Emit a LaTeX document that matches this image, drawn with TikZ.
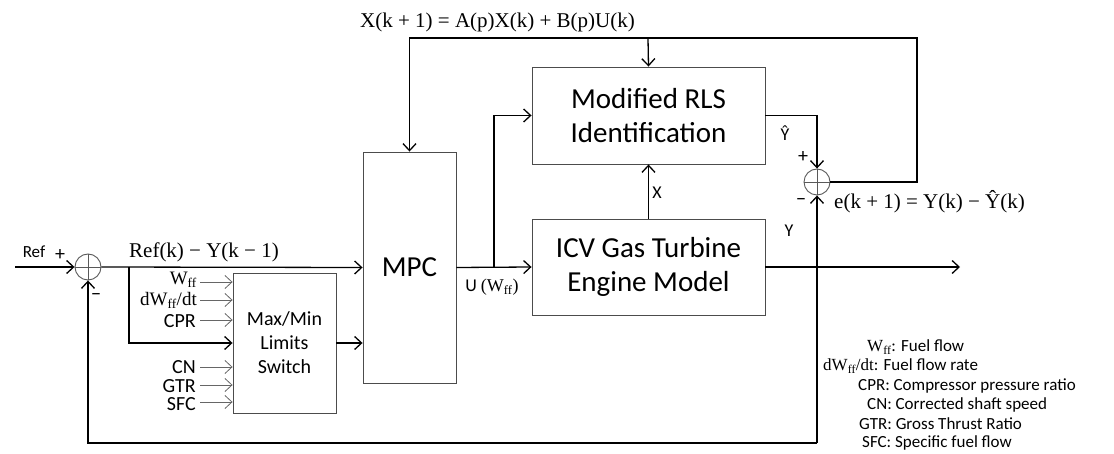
\documentclass[tikz,border=0pt]{standalone}
\usepackage{fontspec}
\setmainfont{Carlito}
\newfontfamily\mth{Liberation Serif}
\usetikzlibrary{arrows.meta}
\begin{document}
\begin{tikzpicture}[x=1pt,y=-1pt,
  box/.style={draw=black!70, line width=0.9pt, inner sep=0pt, align=center, font=\fontsize{29}{34}\selectfont},
  sumj/.style={circle, draw=black!65, line width=0.9pt, minimum size=26pt, inner sep=0pt},
  ln/.style={line width=1.3pt},
  arr/.style={ln, -{Straight Barb[length=7pt,width=13pt,line width=1.3pt]}},
  tarr/.style={draw=black!60, line width=0.8pt, -{Straight Barb[length=7pt,width=13pt,line width=0.8pt]}},
  lbl/.style={inner sep=0pt, font=\fontsize{20}{22}\selectfont},
  slbl/.style={inner sep=0pt, font=\fontsize{18}{20}\selectfont},
  mlbl/.style={inner sep=0pt, font=\mth\fontsize{21}{23}\selectfont},
  leg/.style={inner sep=0pt, anchor=west, font=\fontsize{17}{19}\selectfont}
]
\useasboundingbox (0,0) rectangle (1114,454);

% blocks
\node[box, minimum width=233pt, minimum height=97pt] (rls) at (648.5,115.5) {Modified RLS\\Identification};
\node[box, minimum width=233pt, minimum height=96pt] (icv) at (648.5,267) {ICV Gas Turbine\\Engine Model};
\node[box, minimum width=93pt, minimum height=231pt] (mpc) at (409.5,267.5) {MPC};
\node[box, minimum width=103pt, minimum height=140pt, font=\fontsize{20}{24}\selectfont] (mm) at (284.5,343) {Max/Min\\Limits\\Switch};

% summing junctions
\node[sumj] (s1) at (88,267) {};
\draw[black!65, line width=0.8pt] (s1.north) -- (s1.south) (s1.west) -- (s1.east);
\node[sumj] (s2) at (817,182) {};
\draw[black!65, line width=0.8pt] (s2.north) -- (s2.south) (s2.west) -- (s2.east);

% coordinates
\coordinate (ref) at (15,267);
\coordinate (b1) at (129,267);
\coordinate (b2) at (494,267);
\coordinate (out) at (960,267);
\coordinate (tr) at (917,38);
\coordinate (tb) at (648,38);
\coordinate (fb) at (817,443);

% connectors
\draw[arr] (ref) -- (s1.west);
\draw[arr] (s1.east) -- (mpc.west);
\draw[arr] (b1) |- (mm.west);
\draw[arr] (mm.east) -- (mm.east -| mpc.west);
\draw[arr] (mpc.east) -- (icv.west);
\draw[arr] (b2) |- (rls.west);
\draw[arr] (icv.north) -- (rls.south);
\draw[arr] (icv.east) -- (out);
\draw[arr] (rls.east) -| (s2.north);
\draw[arr] (s2.east) -| (tr) -| (mpc.north);
\draw[arr] (tb) -- (rls.north);
\draw[arr] (fb) -- (s2.south);
\draw[arr] (fb) -| (s1.south);

% input arrows
\foreach \y/\n in {282/i1,300/i2,320/i3,367/i4,385/i5,402/i6}{
  \coordinate (\n) at (200,\y);
  \draw[tarr] (\n) -- (\n -| mm.west);
}
\node[lbl, anchor=east, font=\mth\fontsize{19}{21}\selectfont] at (197,280) {W\textsubscript{ff}};
\node[lbl, anchor=east, font=\mth\fontsize{19}{21}\selectfont] at (197,300.5) {dW\textsubscript{ff}/dt};
\node[lbl, anchor=east] at (196,321) {CPR};
\node[lbl, anchor=east] at (196,367) {CN};
\node[lbl, anchor=east] at (196,386) {GTR};
\node[lbl, anchor=east] at (196,404) {SFC};

% labels
\node[lbl, font=\fontsize{17}{19}\selectfont] at (34,252) {Ref};
\node[lbl] at (60,255) {+};
\node[lbl] at (96,297) {−};
\node[mlbl] at (204,252) {Ref(k) − Y(k − 1)};
\node[mlbl, anchor=west] at (360,22) {X(k + 1) = A(p)X(k) + B(p)U(k)};
\node[slbl] at (492,287) {U {\mth(W\textsubscript{ff})}};
\node[slbl] at (657,193) {X};
\node[slbl] at (785,133) {Ŷ};
\node[slbl] at (789,231) {Y};
\node[lbl] at (803,157) {+};
\node[lbl] at (801,202) {−};
\node[mlbl, anchor=west] at (834,202) {e(k + 1) = Y(k) − Ŷ(k)};

% legend
\node[leg] at (867,347) {{\mth W\textsubscript{ff}}: Fuel flow};
\node[leg] at (823,366) {{\mth dW\textsubscript{ff}/dt}: Fuel flow rate};
\node[leg] at (858,386) {CPR: Compressor pressure ratio};
\node[leg] at (867,405) {CN: Corrected shaft speed};
\node[leg] at (859,424) {GTR: Gross Thrust Ratio};
\node[leg] at (862,443) {SFC: Specific fuel flow};
\end{tikzpicture}
\end{document}
